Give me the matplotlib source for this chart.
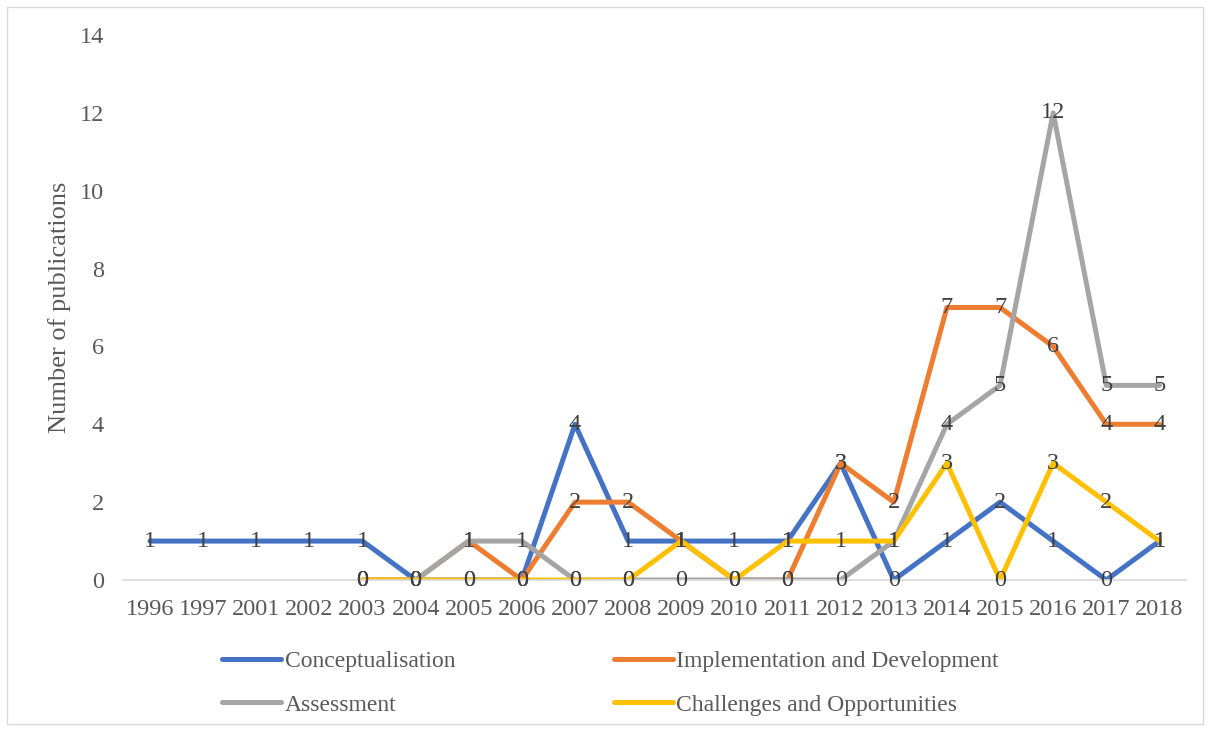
import matplotlib
matplotlib.use("Agg")
import matplotlib.pyplot as plt
import numpy as np
from matplotlib.patches import Rectangle

years = ["1996", "1997", "2001", "2002", "2003", "2004", "2005", "2006", "2007", "2008",
         "2009", "2010", "2011", "2012", "2013", "2014", "2015", "2016", "2017", "2018"]
nan = np.nan
conceptualisation = [1, 1, 1, 1, 1, 0, 0, 0, 4, 1, 1, 1, 1, 3, 0, 1, 2, 1, 0, 1]
implementation = [nan, nan, nan, nan, 0, 0, 1, 0, 2, 2, 1, 0, 0, 3, 2, 7, 7, 6, 4, 4]
assessment = [nan, nan, nan, nan, 0, 0, 1, 1, 0, 0, 0, 0, 0, 0, 1, 4, 5, 12, 5, 5]
challenges = [nan, nan, nan, nan, 0, 0, 0, 0, 0, 0, 1, 0, 1, 1, 1, 3, 0, 3, 2, 1]

series = [
    ("Conceptualisation", conceptualisation, "#4472C4"),
    ("Implementation and Development", implementation, "#ED7D31"),
    ("Assessment", assessment, "#A5A5A5"),
    ("Challenges and Opportunities", challenges, "#FFC000"),
]

plt.rcParams['font.family'] = ['Liberation Serif', 'DejaVu Serif']
txt = "#595959"

fig = plt.figure(figsize=(12.1, 7.31), dpi=100)
fig.patches.append(Rectangle((7/1210, 7/731), 1196/1210, 717/731, transform=fig.transFigure,
                             fill=False, edgecolor="#D9D9D9", lw=1))
ax = fig.add_axes([123.4/1210, 1-580/731, (1186-123.4)/1210, (580-35)/731])

x = np.arange(len(years))
handles = {}
for name, vals, col in series:
    h, = ax.plot(x, vals, color=col, lw=3.6, solid_capstyle='round', solid_joinstyle='round', label=name)
    handles[name] = h
for name, vals, col in series:
    for xi, v in zip(x, vals):
        if not np.isnan(v):
            ax.text(xi, v, f"{int(v)}", ha='center', va='center', fontsize=17.5, color="#404040", zorder=5)

ax.set_xlim(-0.5, len(years)-0.5)
ax.set_ylim(0, 14)
ax.set_yticks(range(0, 15, 2))
ax.set_xticks(x)
ax.set_xticklabels(years)
ax.tick_params(axis='both', length=0, labelsize=17.5, labelcolor=txt)
ax.tick_params(axis='y', pad=14)
ax.tick_params(axis='x', pad=14)
for s in ['top', 'right', 'left']:
    ax.spines[s].set_visible(False)
ax.spines['bottom'].set_color("#D9D9D9")
ax.spines['bottom'].set_linewidth(1.2)
ax.set_ylabel("Number of publications", fontsize=19, color=txt, labelpad=6)

order = ["Conceptualisation", "Assessment", "Implementation and Development", "Challenges and Opportunities"]
leg = fig.legend([handles[n] for n in order], order, ncol=2, loc='upper left',
                 bbox_to_anchor=(201/1210, 1-629/731), frameon=False, fontsize=17,
                 handlelength=2.5, handletextpad=0.15, columnspacing=6.7, labelspacing=0.95,
                 labelcolor=txt)

fig.savefig("out.png", dpi=100)
